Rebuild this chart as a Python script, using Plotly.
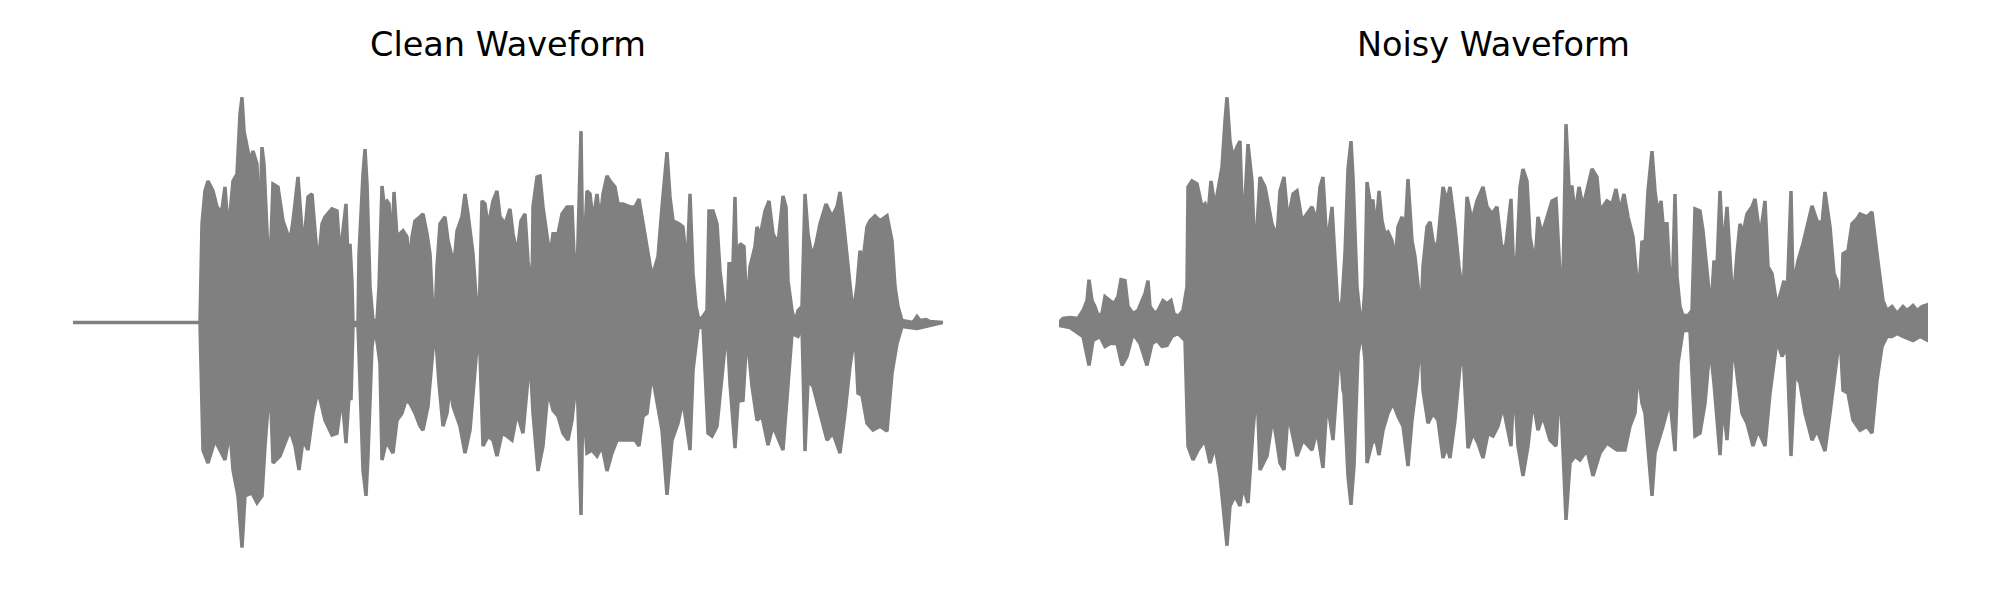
import plotly.graph_objects as go

# ---------------- data: waveform envelopes ----------------
# x: frame index, y: amplitude (arbitrary units, positive = upper edge, lower edge given as magnitude)
clean_top_t = [0, 127, 129, 132, 135, 140, 144, 147, 149, 152, 154, 157, 160, 164, 167, 169, 171, 174, 177, 180,
               184, 186, 189, 191, 195, 197, 200, 205, 210, 217, 220, 225, 229, 232, 235, 239, 242, 245, 249, 252,
               259, 264, 267, 270, 273, 275, 277, 279, 280, 285, 286, 290, 292, 294, 297, 300, 304, 306, 309, 311,
               314, 316, 319, 321, 324, 327, 330, 334, 336, 339, 342, 347, 350, 354, 357, 360, 362, 364, 367, 372,
               375, 379, 382, 384, 389, 392, 395, 400, 404, 406, 409, 412, 415, 420, 424, 427, 432, 437, 440, 444,
               448, 452, 455, 459, 460, 464, 467, 470, 474, 477, 480, 485, 489, 494, 499, 501, 504, 508, 510, 514,
               517, 520, 524, 527, 530, 534, 537, 542, 545, 550, 557, 562, 566, 570, 575, 579, 582, 585, 589, 592,
               594, 597, 600, 606, 610, 614, 617, 620, 623, 626, 630, 634, 636, 640, 644, 647, 650, 654, 656, 660,
               662, 664, 667, 671, 674, 677, 682, 684, 687, 692, 696, 700, 705, 710, 713, 715, 719, 722, 725, 729,
               732, 735, 739, 743, 747, 753, 759, 764, 767, 770, 775, 780, 784, 787, 790, 794, 797, 802, 807, 814,
               819, 822, 825, 829, 840, 844, 847, 853, 857, 870]
clean_top = [0, 0, 99, 132, 142, 132, 116, 112, 114, 136, 109, 109, 142, 149, 209, 226, 192, 176, 162, 172,
             159, 82, 176, 159, 69, 56, 139, 136, 102, 82, 102, 146, 92, 92, 126, 129, 89, 56, 99, 106,
             114, 112, 66, 92, 119, 62, 79, 40, 0, 0, 69, 149, 174, 139, 36, 2, 2, 36, 137, 119,
             122, 119, 76, 131, 86, 89, 92, 86, 59, 86, 102, 106, 109, 89, 69, 9, 2, 56, 99, 106,
             82, 66, 69, 92, 106, 129, 109, 69, 12, 0, 122, 119, 96, 122, 132, 106, 99, 114, 89, 69,
             102, 109, 62, 29, 116, 146, 147, 116, 89, 66, 89, 89, 109, 116, 116, 69, 46, 192, 46, 132,
             129, 102, 129, 102, 129, 147, 142, 136, 119, 119, 116, 116, 124, 99, 69, 46, 56, 66, 116, 149,
             171, 126, 102, 99, 96, 52, 129, 49, 16, 2, 6, 12, 112, 112, 99, 52, 26, 2, 59, 59,
             126, 42, 79, 76, 9, 56, 76, 96, 86, 112, 122, 89, 79, 127, 116, 42, 12, 0, 12, 16,
             129, 89, 66, 79, 99, 119, 106, 116, 131, 106, 56, 9, 36, 72, 62, 96, 102, 107, 102, 107,
             82, 36, 16, 2, 0, 6, 2, 3, 1, 0]
clean_bot_t = [0, 127, 130, 135, 142, 152, 157, 160, 165, 169, 172, 179, 184, 189, 192, 197, 200, 207, 217, 222,
               226, 230, 235, 240, 245, 252, 259, 264, 269, 273, 277, 278, 280, 285, 287, 290, 293, 295, 299, 302,
               307, 309, 313, 316, 320, 324, 329, 333, 337, 342, 347, 350, 355, 359, 362, 366, 370, 374, 377, 380,
               387, 392, 397, 402, 406, 410, 415, 420, 424, 429, 434, 439, 444, 450, 457, 460, 465, 470, 475, 480,
               485, 490, 495, 499, 504, 508, 510, 514, 519, 524, 529, 534, 539, 544, 550, 557, 562, 566, 570, 574,
               579, 584, 589, 594, 599, 605, 610, 617, 620, 625, 630, 635, 639, 644, 649, 654, 657, 662, 665, 670,
               674, 679, 684, 689, 695, 700, 710, 714, 719, 725, 729, 732, 735, 740, 747, 754, 760, 767, 772, 777,
               782, 785, 789, 794, 800, 807, 814, 819, 824, 829, 844, 870]
clean_bot = [0, 0, 128, 141, 118, 138, 108, 148, 174, 226, 174, 171, 181, 174, 124, 58, 141, 134, 108, 124,
             148, 118, 128, 91, 68, 98, 113, 111, 74, 121, 58, 78, 3, 3, 68, 148, 174, 134, 24, 4,
             41, 138, 121, 124, 131, 98, 91, 78, 81, 91, 104, 108, 84, 38, 4, 61, 104, 91, 64, 84,
             104, 131, 108, 51, 0, 124, 114, 118, 134, 111, 114, 118, 91, 111, 34, 91, 149, 124, 68, 88,
             94, 111, 118, 98, 51, 193, 74, 131, 128, 134, 124, 149, 131, 118, 118, 118, 118, 124, 94, 91,
             51, 78, 108, 173, 118, 101, 78, 128, 48, 6, 4, 111, 114, 104, 51, 4, 61, 126, 79, 78,
             11, 64, 98, 94, 123, 104, 128, 71, 11, 14, 4, 129, 58, 64, 91, 118, 111, 131, 91, 44,
             11, 71, 73, 101, 108, 104, 109, 51, 21, 4, 6, 0]

noisy_top_t = [0, 4, 11, 19, 24, 28, 30, 33, 36, 39, 43, 46, 51, 55, 59, 62, 66, 69, 74, 79,
               83, 86, 89, 91, 96, 99, 104, 108, 112, 115, 119, 124, 128, 129, 133, 138, 143, 146, 149, 152,
               156, 159, 163, 166, 168, 171, 174, 178, 181, 184, 189, 193, 196, 201, 206, 213, 218, 221, 225, 229,
               234, 238, 243, 248, 253, 258, 261, 264, 268, 273, 276, 279, 283, 286, 289, 292, 294, 298, 301, 304,
               306, 308, 311, 314, 317, 320, 323, 326, 329, 333, 336, 339, 343, 346, 349, 353, 356, 359, 362, 364,
               368, 371, 374, 378, 381, 384, 388, 391, 396, 400, 404, 408, 413, 418, 424, 428, 433, 438, 443, 447,
               452, 455, 458, 461, 464, 468, 471, 476, 479, 483, 487, 493, 497, 501, 504, 507, 510, 513, 516, 520,
               524, 528, 533, 538, 541, 548, 553, 557, 561, 565, 569, 574, 578, 581, 583, 586, 589, 593, 596, 599,
               602, 604, 608, 611, 614, 616, 618, 621, 624, 629, 633, 636, 641, 644, 648, 652, 655, 658, 661, 664,
               668, 671, 674, 678, 681, 684, 688, 693, 696, 701, 706, 709, 713, 718, 721, 725, 728, 732, 734, 739,
               744, 749, 753, 758, 763, 766, 771, 775, 778, 782, 784, 789, 793, 798, 801, 808, 813, 818, 821, 824,
               828, 833, 838, 844, 848, 854, 858, 863, 869]
noisy_top = [0, 4, 5, 4, 12, 22, 43, 22, 16, 7, 9, 26, 22, 19, 26, 43, 42, 16, 9, 12,
             22, 29, 42, 16, 9, 12, 22, 19, 22, 9, 6, 12, 36, 136, 142, 139, 116, 119, 109, 142,
             116, 132, 156, 202, 226, 182, 166, 176, 182, 86, 179, 142, 62, 146, 136, 99, 86, 132, 146, 102,
             129, 132, 102, 109, 116, 102, 136, 146, 76, 116, 69, 12, 22, 69, 154, 182, 146, 36, 7, 7,
             36, 141, 122, 122, 92, 132, 102, 89, 91, 82, 62, 96, 106, 89, 144, 82, 66, 36, 9, 56,
             96, 101, 82, 72, 102, 136, 122, 136, 96, 56, 26, 126, 102, 122, 136, 116, 109, 116, 72, 79,
             124, 42, 69, 136, 154, 142, 86, 59, 106, 89, 102, 122, 124, 49, 42, 199, 136, 136, 109, 136,
             116, 132, 154, 146, 112, 122, 119, 134, 112, 129, 106, 86, 42, 49, 82, 76, 132, 172, 132, 109,
             122, 99, 99, 42, 56, 129, 46, 16, 7, 7, 12, 114, 112, 92, 49, 12, 62, 56, 132, 69,
             116, 69, 16, 69, 99, 89, 109, 116, 124, 86, 122, 56, 49, 16, 26, 42, 22, 132, 36, 62,
             79, 99, 117, 102, 99, 131, 96, 49, 42, 9, 69, 72, 99, 104, 109, 106, 111, 69, 42, 22,
             12, 16, 9, 16, 12, 17, 12, 16, 18]
noisy_bot_t = [0, 11, 24, 30, 34, 41, 46, 51, 58, 63, 68, 74, 81, 88, 93, 98, 103, 108, 113, 119,
               126, 129, 134, 139, 146, 151, 156, 161, 164, 168, 171, 176, 181, 184, 189, 194, 198, 201, 208, 214,
               221, 225, 229, 238, 244, 253, 258, 264, 268, 274, 278, 281, 284, 285, 289, 292, 295, 299, 303, 306,
               308, 313, 317, 320, 324, 329, 334, 339, 344, 349, 353, 358, 362, 364, 369, 374, 379, 384, 388, 391,
               396, 401, 404, 409, 414, 419, 424, 429, 434, 439, 444, 452, 455, 459, 464, 469, 474, 479, 484, 491,
               497, 501, 507, 511, 516, 521, 528, 534, 541, 548, 558, 566, 571, 576, 579, 583, 586, 589, 593, 596,
               599, 604, 611, 616, 619, 624, 631, 636, 641, 646, 651, 655, 661, 664, 668, 671, 674, 679, 683, 688,
               694, 699, 706, 711, 718, 723, 728, 732, 736, 741, 746, 753, 758, 766, 771, 776, 781, 784, 789, 794,
               801, 808, 813, 818, 823, 828, 833, 838, 844, 854, 861, 869]
noisy_bot = [3, 5, 14, 43, 18, 14, 24, 21, 21, 43, 34, 11, 21, 43, 21, 18, 24, 23, 14, 11,
             18, 124, 138, 128, 118, 141, 124, 154, 184, 224, 184, 174, 184, 164, 181, 108, 64, 148, 134, 94,
             141, 148, 91, 134, 118, 128, 108, 146, 78, 118, 58, 21, 68, 71, 154, 183, 144, 31, 8, 38,
             141, 121, 118, 133, 108, 91, 81, 94, 104, 144, 98, 58, 11, 68, 101, 91, 98, 136, 124, 136,
             98, 44, 28, 126, 111, 121, 136, 111, 114, 104, 84, 124, 58, 124, 154, 124, 78, 108, 94, 118,
             124, 58, 198, 141, 134, 138, 128, 154, 131, 121, 128, 128, 104, 91, 48, 81, 91, 124, 174, 131,
             121, 104, 78, 129, 41, 8, 8, 114, 111, 81, 24, 61, 133, 81, 118, 74, 18, 61, 91, 101,
             124, 108, 124, 71, 18, 34, 24, 134, 51, 61, 91, 118, 108, 129, 91, 48, 11, 68, 71, 98,
             108, 104, 111, 58, 24, 14, 14, 11, 14, 18, 14, 18]

titles = ["Clean Waveform", "Noisy Waveform"]
panels = [(clean_top_t, clean_top, clean_bot_t, clean_bot),
          (noisy_top_t, noisy_top, noisy_bot_t, noisy_bot)]

# ---------------- figure ----------------
W, H = 2000, 600
MT, MB = 86, 41
domains = [[73 / W, 943 / W], [1059 / W, 1928 / W]]
color = "#808080"

fig = go.Figure()
peak = max(max(clean_top + clean_bot), max(noisy_top + noisy_bot))
yr = [-peak * 1.05, peak * 1.05]

for i, (tt, tv, bt, bv) in enumerate(panels):
    xs = list(tt) + list(reversed(bt))
    ys = list(tv) + [-v for v in reversed(bv)]
    suffix = "" if i == 0 else str(i + 1)
    fig.add_trace(go.Scatter(
        x=xs, y=ys, mode="lines", fill="toself", fillcolor=color,
        line=dict(color=color, width=3.5, shape="linear"),
        xaxis="x" + suffix, yaxis="y" + suffix, hoverinfo="skip", showlegend=False))
    xmax = max(max(tt), max(bt))
    ax = dict(domain=domains[i], range=[0, xmax], visible=False, showgrid=False, zeroline=False,
              anchor="y" + suffix)
    ay = dict(domain=[0, 1], range=yr, visible=False, showgrid=False, zeroline=False,
              anchor="x" + suffix)
    fig.update_layout({"xaxis" + suffix: ax, "yaxis" + suffix: ay})
    fig.add_annotation(text=titles[i], xref="paper", yref="paper",
                       x=(domains[i][0] + domains[i][1]) / 2,
                       y=(H - MB - 45) / (H - MT - MB), xanchor="center", yanchor="middle",
                       showarrow=False, font=dict(family="DejaVu Sans", size=33.5, color="black"))

fig.update_layout(width=W, height=H, margin=dict(l=0, r=0, t=MT, b=MB),
                  paper_bgcolor="white", plot_bgcolor="white", showlegend=False)

fig.write_html("out.html", config={"displayModeBar": False},
               post_script="document.body.style.margin='0';")
